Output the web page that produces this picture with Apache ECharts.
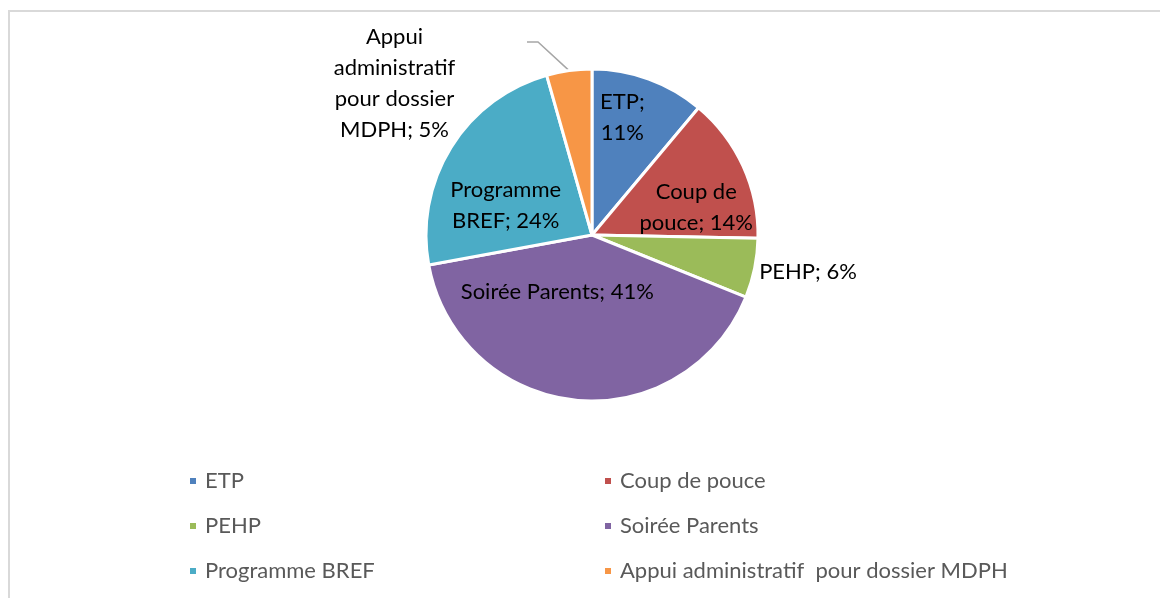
<!DOCTYPE html>
<html>
<head>
<meta charset="utf-8">
<script src="https://cdn.jsdelivr.net/npm/echarts@6/dist/echarts.min.js"></script>
<style>
  html, body { margin: 0; padding: 0; background: #fff; }
  #frame { position: absolute; left: 8px; top: 10px; right: 0; bottom: 0;
           border-top: 2px solid #d9d9d9; border-left: 2px solid #d9d9d9; }
  #main { position: absolute; left: 0; top: 0; width: 1160px; height: 598px; }
</style>
</head>
<body>
<div id="frame"></div>
<div id="main"></div>
<script>
// categories and values (share in %)
const categories = ['ETP', 'Coup de pouce', 'PEHP', 'Soirée Parents', 'Programme BREF', 'Appui administratif  pour dossier MDPH']
const values = [11.1, 14.2, 5.8, 41.0, 23.5, 4.4]
const labelTexts = ['ETP;\n11%', 'Coup de\npouce; 14%', 'PEHP; 6%', 'Soirée Parents; 41%', 'Programme\nBREF; 24%', 'Appui\nadministratif\npour dossier\nMDPH; 5%']
const colors = ['#4F81BD', '#C0504D', '#9BBB59', '#8064A2', '#4BACC6', '#F79646']

// label placement: [radius factor, angle clockwise from 12 o'clock]
const labelSpots = [[0.73, 14.5], [0.65, 75], [1.32, 99.7], [0.40, 211.5], [0.55, 289], [1.5, 307.5]]

const center = [592, 235]
const radius = 166

const myChart = echarts.init(document.getElementById('main'))

const font = 'Lato, "Open Sans", sans-serif'

const legendText = { fontFamily: font, fontSize: 22, color: '#595959', lineHeight: 22, padding: [0, 0, 0, 3] }

const option = {
  animation: false,
  color: colors,
  legend: [
    {
      data: [categories[0], categories[2], categories[4]],
      orient: 'vertical',
      left: 188, top: 470, padding: 0,
      icon: 'rect', itemWidth: 8, itemHeight: 8, itemGap: 23,
      textStyle: legendText
    },
    {
      data: [categories[1], categories[3], categories[5]],
      orient: 'vertical',
      left: 603, top: 470, padding: 0,
      icon: 'rect', itemWidth: 8, itemHeight: 8, itemGap: 23,
      textStyle: legendText
    }
  ],
  series: [
    {
      type: 'pie',
      center: center,
      radius: radius,
      startAngle: 90,
      clockwise: true,
      avoidLabelOverlap: false,
      itemStyle: { borderColor: '#fff', borderWidth: 3 },
      label: {
        position: 'inside',
        fontFamily: font,
        fontSize: 22,
        lineHeight: 31,
        color: '#000',
        align: 'center',
        formatter: p => labelTexts[p.dataIndex]
      },
      labelLine: { show: false },
      emphasis: { disabled: true },
      data: categories.map((name, i) => {
        const item = { name: name, value: values[i] }
        if (i === 5) {
          item.label = { position: 'outside' }
          item.labelLine = { show: true, lineStyle: { color: '#a6a6a6', width: 1.5 } }
        }
        if (i === 2) {
          item.label = { position: 'outside' }
        }
        return item
      }),
      labelLayout: function (params) {
        const spot = labelSpots[params.dataIndex]
        const a = spot[1] * Math.PI / 180
        const x = center[0] + spot[0] * radius * Math.sin(a)
        const y = center[1] - spot[0] * radius * Math.cos(a)
        const out = { x: x, y: y, align: 'center', verticalAlign: 'middle' }
        if (params.dataIndex === 5 && params.labelLinePoints) {
          const start = params.labelLinePoints[0]
          out.labelLinePoints = [start, [538, 42], [527, 42]]
        }
        return out
      }
    }
  ]
}

myChart.setOption(option)
</script>
</body>
</html>
